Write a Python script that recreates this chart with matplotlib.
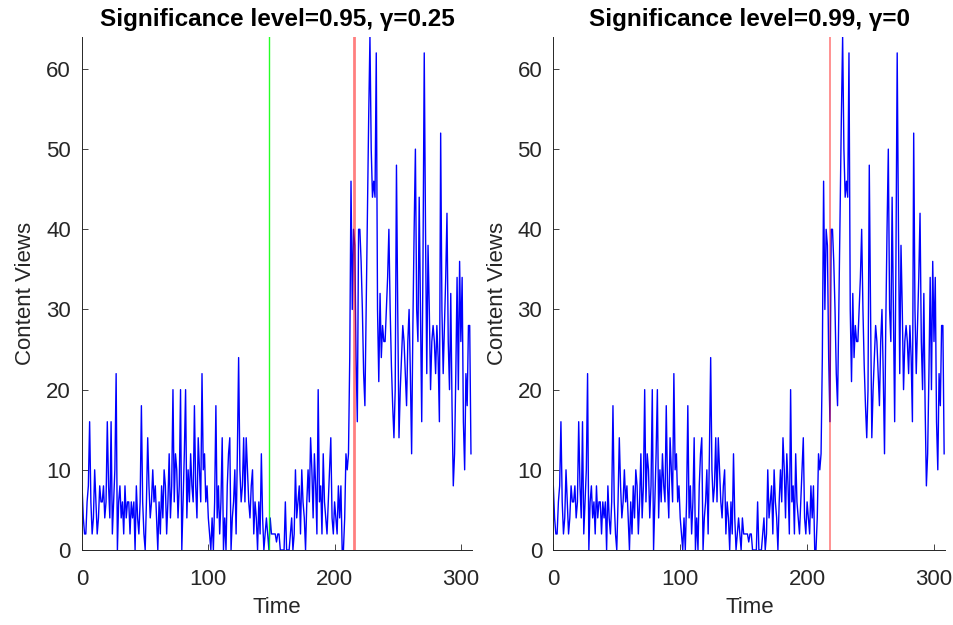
import matplotlib

matplotlib.use("Agg")
import matplotlib.pyplot as plt  # noqa: E402
import numpy as np  # noqa: E402

# content views per time step (t = 0..308)
views = [
    8, 4, 2, 2, 6, 8, 16, 6, 2, 4,
    10, 6, 2, 4, 8, 6, 6, 8, 4, 6,
    16, 8, 4, 16, 2, 6, 10, 22, 0, 6,
    8, 4, 6, 2, 8, 4, 6, 6, 2, 6,
    4, 6, 0, 8, 4, 2, 6, 18, 6, 2,
    0, 6, 14, 8, 4, 6, 10, 6, 8, 4,
    0, 6, 2, 8, 4, 10, 8, 2, 6, 12,
    4, 8, 20, 6, 12, 10, 4, 8, 20, 0,
    6, 12, 20, 4, 10, 6, 12, 8, 6, 18,
    8, 4, 14, 10, 6, 22, 10, 12, 6, 8,
    4, 2, 0, 4, 0, 6, 18, 4, 8, 2,
    6, 14, 0, 4, 0, 8, 12, 14, 0, 4,
    6, 10, 2, 12, 24, 10, 6, 8, 14, 6,
    14, 10, 6, 4, 8, 10, 2, 6, 4, 0,
    6, 2, 12, 4, 0, 2, 4, 2, 0, 4,
    2, 2, 2, 2, 1, 2, 2, 0, 0, 0,
    0, 6, 0, 0, 0, 2, 4, 0, 2, 10,
    4, 6, 8, 2, 10, 6, 4, 0, 6, 10,
    6, 14, 10, 4, 12, 8, 2, 20, 6, 8,
    2, 12, 6, 4, 2, 6, 10, 14, 4, 2,
    6, 4, 2, 8, 4, 8, 0, 0, 4, 12,
    10, 12, 24, 46, 30, 40, 38, 24, 16, 40,
    40, 36, 30, 22, 18, 30, 42, 54, 64, 50,
    44, 46, 44, 62, 30, 21, 32, 24, 28, 26,
    26, 30, 34, 40, 30, 23, 18, 14, 20, 48,
    30, 14, 20, 24, 28, 26, 22, 18, 26, 30,
    22, 12, 28, 40, 50, 30, 26, 44, 30, 16,
    36, 62, 40, 22, 38, 30, 20, 26, 28, 26,
    22, 28, 24, 16, 52, 30, 22, 28, 34, 42,
    26, 20, 32, 18, 8, 12, 22, 34, 20, 36,
    26, 34, 16, 10, 22, 18, 28, 28, 12,
]
time = np.arange(len(views))

titles = ["Significance level=0.95, \u03b3=0.25", "Significance level=0.99, \u03b3=0"]
green_at = [148, None]  # first alarm (left only)
red_at = [215, 218]     # detected change point
red_width = [2.0, 1.2]

plt.rcParams["font.family"] = ["Liberation Sans", "DejaVu Sans"]

fig = plt.figure(figsize=(9.54, 6.25), dpi=100)
boxes = [[0.086, 0.12, 0.409, 0.821], [0.580, 0.12, 0.411, 0.821]]
dark = "#262626"

for i, box in enumerate(boxes):
    ax = fig.add_axes(box)
    ax.plot(time, views, color="#0000ff", lw=1.0, zorder=2)
    if green_at[i] is not None:
        ax.axvline(green_at[i], color="#00ff00", lw=1.0, alpha=0.85, zorder=3)
    ax.axvline(red_at[i], color="#ff0000", lw=red_width[i], alpha=0.5, zorder=3)
    ax.set_xlim(0, 309)
    ax.set_ylim(0, 64)
    ax.set_xticks([0, 100, 200, 300])
    ax.set_yticks([0, 10, 20, 30, 40, 50, 60])
    ax.tick_params(direction="in", length=4, width=0.6, colors=dark, labelsize=16)
    ax.tick_params(axis="x", pad=14)
    ax.tick_params(axis="y", pad=8)
    for s in ("top", "right"):
        ax.spines[s].set_visible(False)
    for s in ("left", "bottom"):
        ax.spines[s].set_color(dark)
        ax.spines[s].set_linewidth(0.7)
    ax.set_xlabel("Time", fontsize=16, color=dark, labelpad=5)
    ax.set_ylabel("Content Views", fontsize=16, color=dark, labelpad=7)
    ax.set_title(titles[i], fontsize=17.5, fontweight="bold", y=1.0, pad=8)

fig.savefig("out.png", dpi=100, facecolor="white")
